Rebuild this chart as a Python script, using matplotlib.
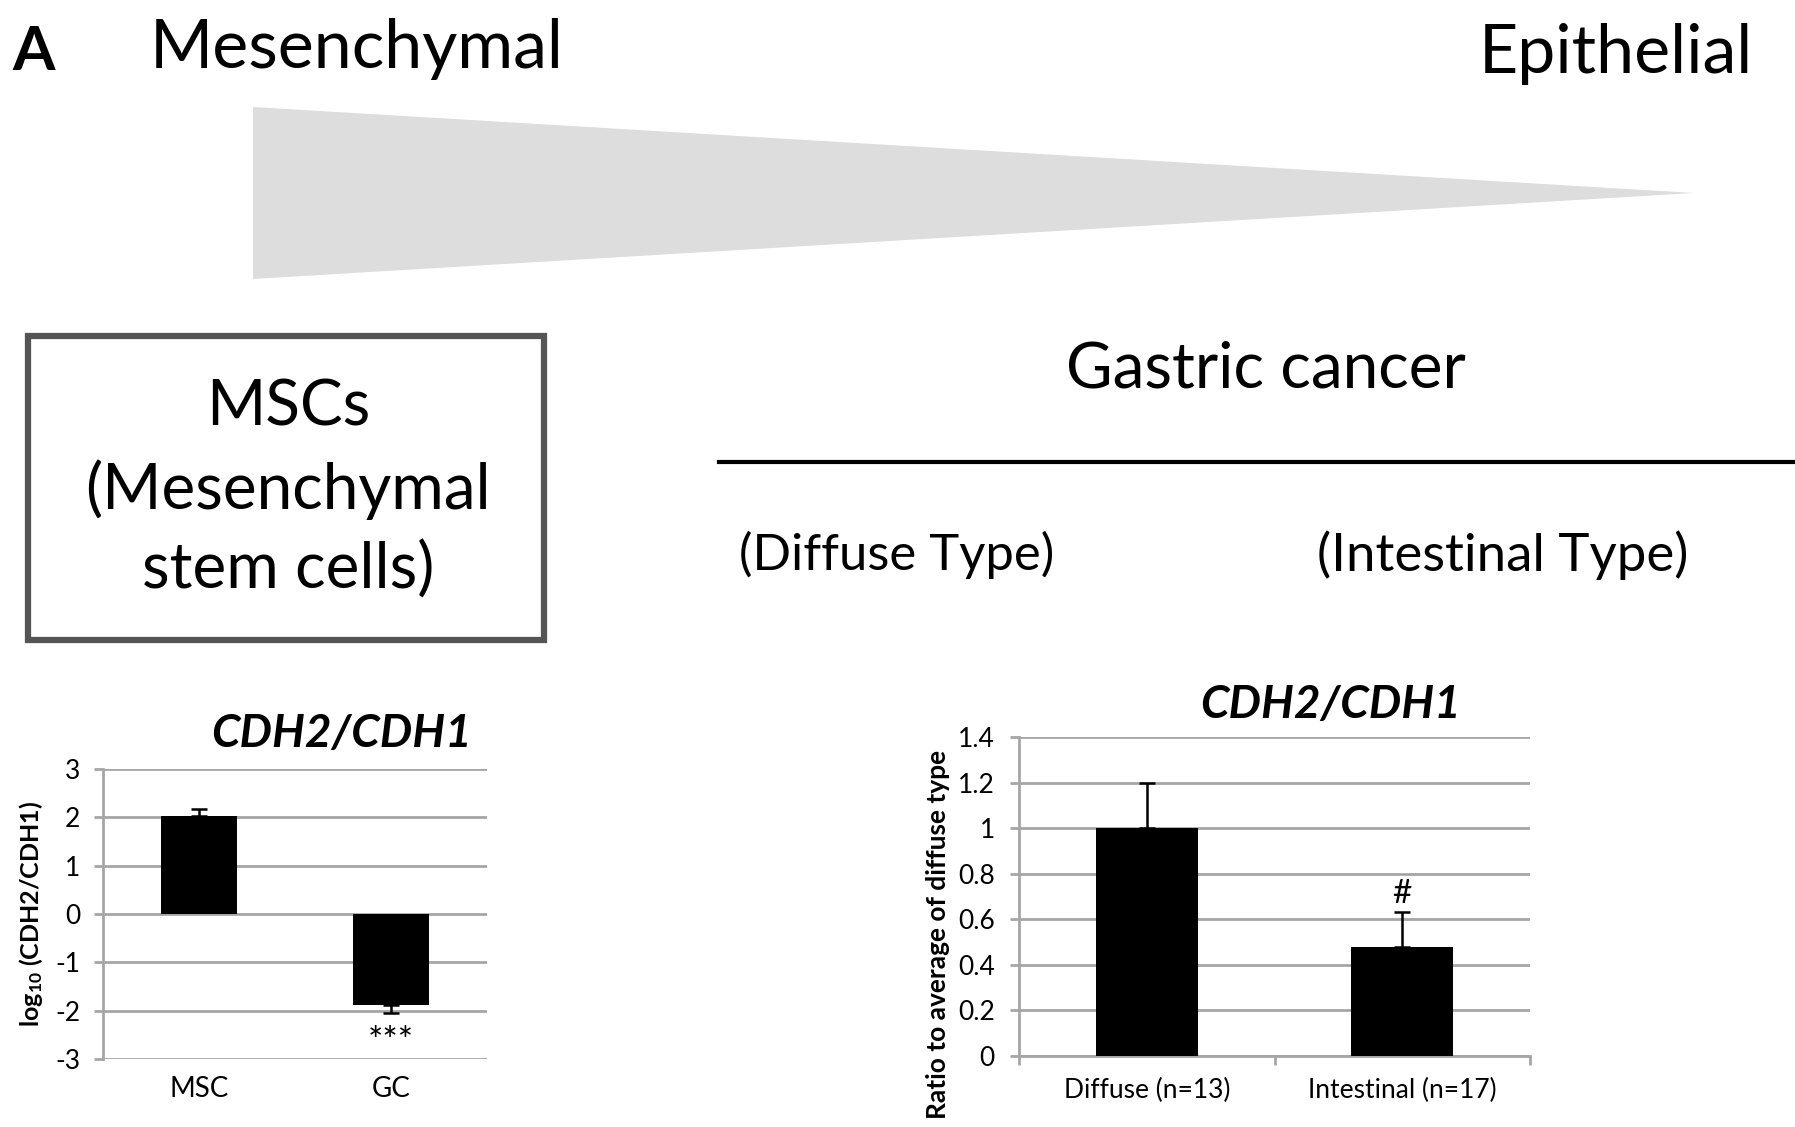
import matplotlib.pyplot as plt
from matplotlib.patches import Polygon, Rectangle

plt.rcParams['font.family'] = ['Lato', 'DejaVu Sans']
plt.rcParams['mathtext.fontset'] = 'custom'
plt.rcParams['mathtext.rm'] = 'Lato'
plt.rcParams['mathtext.bf'] = 'Lato:bold'
plt.rcParams['mathtext.default'] = 'regular'

# left chart: MSC vs GC (log10 ratio)
left_categories = ['MSC', 'GC']
left_values = [2.02, -1.89]
left_errors = [0.15, 0.15]
left_ticks = [-3, -2, -1, 0, 1, 2, 3]

# right chart: diffuse vs intestinal
right_categories = ['Diffuse (n=13)', 'Intestinal (n=17)']
right_values = [1.0, 0.48]
right_errors = [0.2, 0.15]
right_ticks = [0, 0.2, 0.4, 0.6, 0.8, 1.0, 1.2, 1.4]
right_ticklabels = ['0', '0.2', '0.4', '0.6', '0.8', '1', '1.2', '1.4']

W, H = 1795, 1127
fig = plt.figure(figsize=(W / 100, H / 100), dpi=100)

# overlay for the schematic part, in pixel units
bg = fig.add_axes([0, 0, 1, 1])
bg.set_xlim(0, W)
bg.set_ylim(H, 0)
bg.axis('off')

bg.add_patch(Polygon([(253, 107), (253, 279), (1694, 193)], closed=True,
                     facecolor='#dddddd', edgecolor='none'))
bg.text(12, 70, 'A', fontsize=44, fontweight='bold', va='baseline', ha='left')
bg.text(150, 68, 'Mesenchymal', fontsize=49, va='baseline', ha='left')
bg.text(1753, 73, 'Epithelial', fontsize=49, va='baseline', ha='right')

bg.add_patch(Rectangle((28, 336), 516, 304, facecolor='none',
                       edgecolor='#555555', linewidth=4.5))
bg.text(288, 407, 'MSCs', fontsize=46, ha='center', va='center')
bg.text(288, 490, '(Mesenchymal', fontsize=46, ha='center', va='center')
bg.text(288, 570, 'stem cells)', fontsize=46, ha='center', va='center')

bg.text(1266, 370, 'Gastric cancer', fontsize=46, ha='center', va='center')
bg.plot([719, 1793], [462, 462], color='black', linewidth=3)
bg.text(897, 555, '(Diffuse Type)', fontsize=36.5, ha='center', va='center')
bg.text(1503, 555, '(Intestinal Type)', fontsize=38, ha='center', va='center')

grid_color = '#a6a6a6'

# ---- left bar chart
ax1 = fig.add_axes([103 / W, 1 - 1059 / H, 384 / W, 290 / H])
x1 = range(len(left_categories))
lo = [0 if v > 0 else e for v, e in zip(left_values, left_errors)]
hi = [e if v > 0 else 0 for v, e in zip(left_values, left_errors)]
ax1.bar(x1, left_values, width=0.4, color='black', zorder=3)
ax1.errorbar(x1, left_values, yerr=[lo, hi], fmt='none', ecolor='black',
             elinewidth=1.8, capsize=6, capthick=1.8, zorder=4)
ax1.set_xlim(-0.5, 1.5)
ax1.set_ylim(-3, 3)
ax1.set_yticks(left_ticks)
ax1.set_yticklabels([str(t) for t in left_ticks])
ax1.set_xticks(list(x1))
ax1.set_xticklabels(left_categories, fontsize=20)
ax1.tick_params(axis='x', length=0, pad=12)
ax1.tick_params(axis='y', labelsize=19, length=6.5, width=2, color=grid_color, pad=10)
ax1.yaxis.grid(True, color=grid_color, linewidth=2, zorder=0)
ax1.set_axisbelow(True)
for s in ['top', 'right', 'bottom']:
    ax1.spines[s].set_visible(False)
ax1.spines['left'].set_color(grid_color)
ax1.spines['left'].set_linewidth(2)
ax1.set_ylabel(r'log$_{\mathbf{10}}$ (CDH2/CDH1)', fontsize=18, fontweight='bold')
ax1.yaxis.set_label_coords(-0.152, 0.5)
ax1.text(1, left_values[1] - left_errors[1] - 0.62, '***', ha='center', va='center',
         fontsize=26)
ax1.set_title('CDH2/CDH1', fontsize=33, fontweight='bold', style='italic',
              x=0.62, pad=16)

# ---- right bar chart
ax2 = fig.add_axes([1019 / W, 1 - 1056 / H, 511 / W, 319 / H])
x2 = range(len(right_categories))
ax2.bar(x2, right_values, width=0.4, color='black', zorder=3)
ax2.errorbar(x2, right_values, yerr=[[0, 0], right_errors], fmt='none', ecolor='black',
             elinewidth=1.8, capsize=5.5, capthick=1.8, zorder=4)
ax2.set_xlim(-0.5, 1.5)
ax2.set_ylim(0, 1.4)
ax2.set_yticks(right_ticks)
ax2.set_yticklabels(right_ticklabels)
ax2.set_xticks(list(x2))
ax2.set_xticklabels(right_categories, fontsize=19)
ax2.set_xticks([-0.5, 0.5, 1.5], minor=True)
ax2.tick_params(axis='x', which='major', length=0, pad=16)
ax2.tick_params(axis='x', which='minor', length=6.5, width=2, color=grid_color)
ax2.tick_params(axis='y', labelsize=19, length=6.5, width=2, color=grid_color, pad=11)
ax2.yaxis.grid(True, color=grid_color, linewidth=2, zorder=0)
ax2.set_axisbelow(True)
for s in ['top', 'right']:
    ax2.spines[s].set_visible(False)
for s in ['left', 'bottom']:
    ax2.spines[s].set_color(grid_color)
    ax2.spines[s].set_linewidth(2)
ax2.set_ylabel('Ratio to average of diffuse type', fontsize=19, fontweight='bold')
ax2.yaxis.set_label_coords(-0.135, 0.38)
ax2.text(1, right_values[1] + right_errors[1] + 0.08, '#', ha='center', va='center',
         fontsize=24)
ax2.set_title('CDH2/CDH1', fontsize=33, fontweight='bold', style='italic',
              x=0.61, pad=14)

fig.savefig('out.png', dpi=100)
